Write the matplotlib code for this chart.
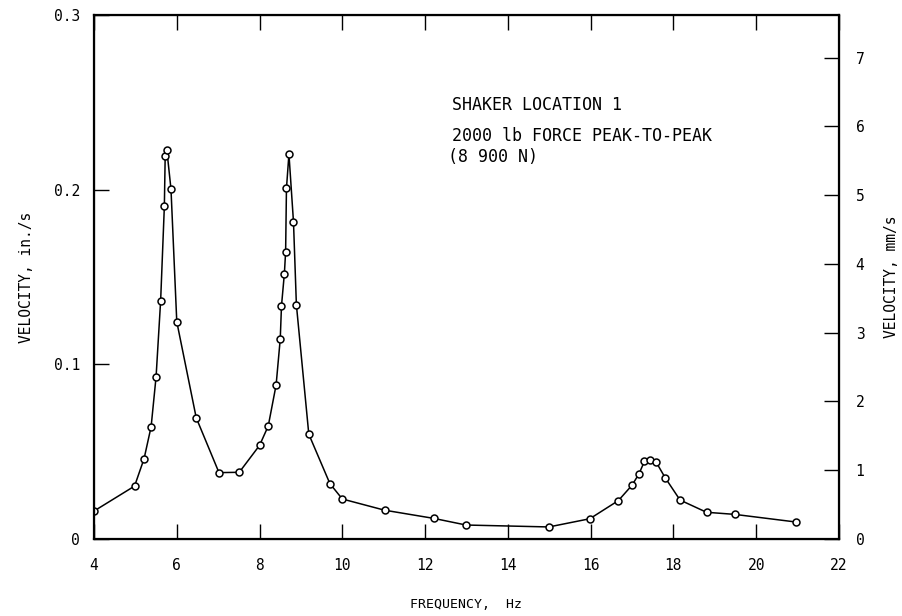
import numpy as np
import matplotlib
matplotlib.use('Agg')
import matplotlib.pyplot as plt

# frequency response
freq = [4.0, 4.98, 5.21, 5.38, 5.50, 5.61, 5.70, 5.72, 5.76, 5.86, 6.0, 6.47,
        7.02, 7.51, 8.0, 8.21, 8.40, 8.50, 8.53, 8.60, 8.63, 8.65, 8.71,
        8.82, 8.89, 9.19, 9.70, 10.0, 11.02, 12.21, 12.99, 14.99, 15.98,
        16.67, 17.0, 17.17, 17.30, 17.43, 17.58, 17.80, 18.16, 18.80,
        19.48, 20.97]
vel = [0.016, 0.0303, 0.046, 0.0643, 0.0929, 0.1364, 0.1906, 0.2194, 0.2227,
       0.2003, 0.1244, 0.0694, 0.038, 0.0382, 0.0536, 0.0647, 0.0882, 0.1145,
       0.1335, 0.152, 0.1645, 0.2007, 0.2204, 0.1815, 0.1341, 0.060, 0.0317,
       0.0229, 0.0165, 0.0118, 0.008, 0.0069, 0.0116, 0.022, 0.0308, 0.0374,
       0.0445, 0.0452, 0.0441, 0.0351, 0.0223, 0.0153, 0.0141, 0.0097]

xticks = [4, 6, 8, 10, 12, 14, 16, 18, 20, 22]
yticks = [0, 0.1, 0.2, 0.3]
ylabels = ['0', '0.1', '0.2', '0.3']
mmticks = [0, 1, 2, 3, 4, 5, 6, 7]
note = ['SHAKER LOCATION 1', '2000 lb FORCE PEAK-TO-PEAK', '(8 900 N)']

plt.rcParams['font.family'] = 'DejaVu Sans Mono'

fig = plt.figure(figsize=(9.03, 6.16), dpi=100)
ax = fig.add_axes([0.1041, 0.125, 0.8250, 0.8506])

ax.plot(freq, vel, color='black', lw=1.1, marker='o', ms=5,
        mfc='white', mec='black', mew=1.1)

ax.set_xlim(4, 22)
ax.set_ylim(0, 0.3)
ax.set_xticks(xticks)
ax.set_xticklabels([str(t) for t in xticks])
ax.set_yticks(yticks)
ax.set_yticklabels(ylabels)
ax.tick_params(direction='in', length=11, width=1, labelsize=10.5,
               top=True, pad=10)
ax.tick_params(axis='x', pad=14)
for s in ax.spines.values():
    s.set_linewidth(1.6)

ax.set_xlabel('FREQUENCY,  Hz', fontsize=9.5, labelpad=18)
ax.set_ylabel('VELOCITY, in./s', fontsize=10.5, labelpad=14)

ax2 = ax.twinx()
ax2.set_ylim(0, 0.3 * 25.4)
ax2.set_yticks(mmticks)
ax2.tick_params(direction='in', length=11, width=1, labelsize=10.5, pad=12)
ax2.set_ylabel('VELOCITY, mm/s', fontsize=10.5, labelpad=14)

ax.text(12.65, 0.2484, note[0], fontsize=12, va='center')
ax.text(12.65, 0.2307, note[1], fontsize=12, va='center')
ax.text(12.55, 0.2187, note[2], fontsize=12, va='center')

plt.savefig('out.png', dpi=100)
